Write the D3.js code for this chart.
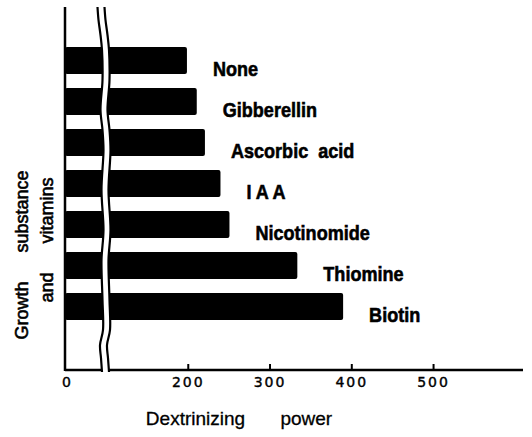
<!DOCTYPE html>
<html>
<head>
<meta charset="utf-8">
<script src="https://cdn.jsdelivr.net/npm/d3@7"></script>
<style>
  body { margin: 0; background: #fff; }
  svg { display: block; }
  .tick text { font-family: "DejaVu Sans", sans-serif; font-size: 14px; letter-spacing: 2px; fill: #000; stroke: #000; stroke-width: 0.4; }
  .label { font-family: "Liberation Sans", Arial, sans-serif; font-weight: bold; font-size: 21px; stroke: #000; stroke-width: 0.6; }
  .title { font-family: "Liberation Sans", Arial, sans-serif; font-size: 18px; stroke: #000; stroke-width: 0.6; }
</style>
</head>
<body>
<svg id="chart" width="532" height="437"></svg>
<script>
// data
var categories = ["None", "Gibberellin", "Ascorbic  acid", "I A A", "Nicotinomide", "Thiomine", "Biotin"];
var values = [199, 211, 221, 240, 251, 334, 390];
var xTicks = [0, 200, 300, 400, 500];

var svg = d3.select("#chart");
var top_ = 7, bottom = 370, axisX = 65;

// broken axis: 0..100 squeezed, 100..610 linear
var x = d3.scaleLinear()
    .domain([0, 100, 610])
    .range([67, 106, 523]);

var y = d3.scaleBand()
    .domain(categories)
    .range([40, 327])
    .paddingInner(0.34)
    .paddingOuter(0.17);

var data = categories.map(function(c, i) { return {name: c, value: values[i]}; });

// bars
svg.append("g").selectAll("rect")
    .data(data)
    .enter().append("rect")
    .attr("x", axisX)
    .attr("y", function(d) { return y(d.name); })
    .attr("width", function(d) { return x(d.value) - axisX; })
    .attr("height", y.bandwidth())
    .attr("rx", 2)
    .attr("fill", "#000");

// bar labels (condensed bold lettering)
svg.append("g").selectAll("text")
    .data(data)
    .enter().append("text")
    .attr("class", "label")
    .attr("transform", function(d) {
        return "translate(" + (x(d.value) + 26) + "," + (y(d.name) + y.bandwidth() / 2 + 15) + ") scale(0.86,1)";
    })
    .style("white-space", "pre")
    .text(function(d) { return d.name; });

// x axis
var xAxis = d3.axisBottom(x)
    .tickValues(xTicks)
    .tickSize(-6)
    .tickSizeOuter(0)
    .tickPadding(7);

var gx = svg.append("g")
    .attr("transform", "translate(0," + bottom + ")")
    .call(xAxis);
gx.select(".domain").attr("stroke-width", 2.5).attr("d", "M" + axisX + ",0H" + x.range()[2]);
gx.selectAll(".tick line").attr("stroke-width", 2)
    .filter(function(d) { return d === 0; }).remove();

// y axis (no ticks)
svg.append("line")
    .attr("x1", axisX).attr("x2", axisX)
    .attr("y1", top_).attr("y2", bottom + 1)
    .attr("stroke", "#000")
    .attr("stroke-width", 2.5);

// axis break: two wavy lines with white between
var wiggle = [[7,-5],[20,-4],[35,-2],[50,-0.5],[80,0],[110,-2],[130,0],[150,1],[190,-1],
              [230,1],[260,-1],[300,0],[330,0.5],[345,-2.5],[358,-1.5],[372,-0.5]];
var cx = x(100), half = 3.5;
var band = d3.area()
    .y(function(d) { return d[0]; })
    .x0(function(d) { return cx + d[1] - half; })
    .x1(function(d) { return cx + d[1] + half; })
    .curve(d3.curveCatmullRom);
svg.append("path").datum(wiggle).attr("d", band).attr("fill", "#fff");
[-half, half].forEach(function(off) {
    svg.append("path").datum(wiggle)
        .attr("d", d3.line()
            .y(function(d) { return d[0]; })
            .x(function(d) { return cx + d[1] + off; })
            .curve(d3.curveCatmullRom))
        .attr("fill", "none")
        .attr("stroke", "#000")
        .attr("stroke-width", 2.2);
});

// axis titles
svg.append("text")
    .attr("x", 239)
    .attr("y", 425)
    .attr("text-anchor", "middle")
    .style("font-family", "Liberation Sans, Arial, sans-serif")
    .style("font-size", "19px")
    .style("word-spacing", "30px")
    .style("stroke", "#000")
    .style("stroke-width", 0.3)
    .text("Dextrinizing power");

svg.append("text")
    .attr("class", "title")
    .attr("transform", "translate(28,255) rotate(-90)")
    .attr("text-anchor", "middle")
    .style("word-spacing", "24px")
    .text("Growth substance");

svg.append("text")
    .attr("class", "title")
    .attr("transform", "translate(53,240) rotate(-90)")
    .attr("text-anchor", "middle")
    .style("word-spacing", "24px")
    .text("and vitamins");
</script>
</body>
</html>
